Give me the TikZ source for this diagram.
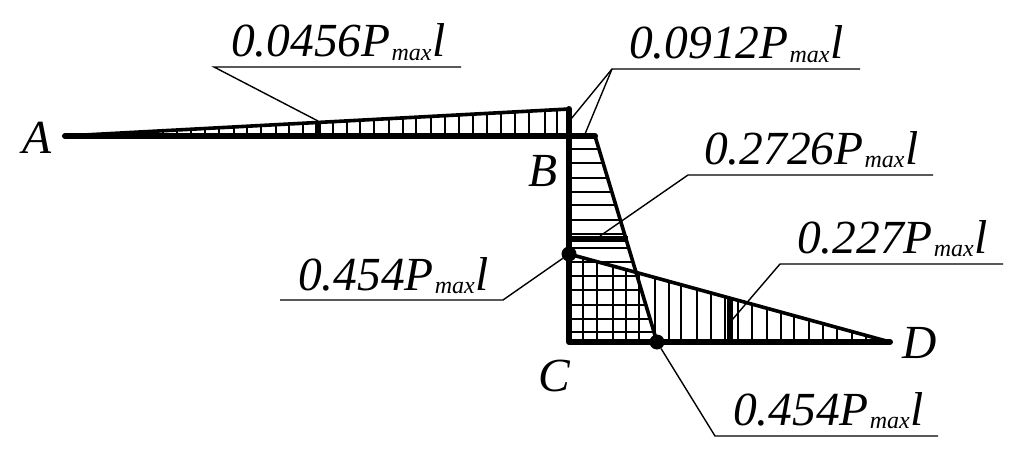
\documentclass[tikz,border=0pt]{standalone}
\usepackage{fontspec}
\setmainfont{Liberation Serif}
\newcommand{\lblfont}{\fontsize{47.5}{47.5}\selectfont\itshape}
\newcommand{\pml}[1]{#1P\kern1pt\raisebox{-3.5pt}{\fontsize{24}{24}\selectfont max}\kern1pt l}
\tikzset{
  beam/.style={line width=6pt,line cap=round,line join=round},
  edgeline/.style={line width=3.6pt,line cap=round},
  ordinate/.style={line width=5.5pt,line cap=butt},
  hatch/.style={line width=1.1pt},
  leader/.style={line width=1.4pt},
  lbl/.style={anchor=base west,inner sep=0pt,outer sep=0pt,font=\lblfont},
  dot/.style={circle,fill=black,inner sep=0pt,minimum size=15pt}
}
\begin{document}
\begin{tikzpicture}[x=1pt,y=-1pt]
\useasboundingbox (0,0) rectangle (1024,468);
\fill[white] (0,0) rectangle (1024,468);
% key points
\coordinate (A) at (65,136);
\coordinate (Btop) at (569,109);
\coordinate (C) at (569,342);
\coordinate (D) at (890,342);
\coordinate (Qt) at (595,136);
\coordinate (Qb) at (657,342);
\coordinate (M) at (569,254);
% hatching: AB, vertical
\foreach \x in {163,177,191,205,219,234,247,261,276,289,303,333,347,360,374,389,403,416,431,445,459,473,487,501,515,529,545,557}
  \draw[hatch] (\x,{136-(27/504)*(\x-65)}) -- (\x,136);
% hatching: BC, horizontal
\foreach \y in {149,163,178,192,205,220,234,248,262,276,290,305,319,332}
  \draw[hatch] (569,\y) -- ({595+(62/206)*(\y-136)},\y);
% hatching: CD, vertical
\foreach \x in {583,597,613,626,639,655,669,681,697,711,725,738,752,767,781,794,809,823,837,852,866}
  \draw[hatch] (\x,{254+(88/321)*(\x-569)}) -- (\x,342);
% contour lines
\draw[edgeline] (A) -- (Btop);
\draw[edgeline] (Qt) -- (Qb);
\draw[edgeline] (M) -- (D);
% ordinates
\coordinate (b1t) at (318,121); \coordinate (b1b) at (318,136);
\coordinate (b2t) at (730,298); \coordinate (b2b) at (730,342);
\coordinate (b3l) at (569,239); \coordinate (b3r) at (628,239);
\draw[ordinate] (b1t) -- (b1b);
\draw[ordinate] (b2t) -- (b2b);
\draw[ordinate] (b3l) -- (b3r);
% frame
\draw[beam] (A) -- (Qt);
\draw[beam] (Btop) -- (C) -- (D);
\node[dot] (dm) at (M) {};
\node[dot] (dq) at (Qb) {};
% leaders
\coordinate (l1a) at (461,67); \coordinate (l1b) at (214,67); \coordinate (l1c) at (318,121);
\coordinate (l2a) at (860,69); \coordinate (l2b) at (612,69);
\coordinate (l2c) at (571,119); \coordinate (l2d) at (585,134);
\coordinate (l3a) at (933,175); \coordinate (l3b) at (688,175); \coordinate (l3c) at (600,236);
\coordinate (l4a) at (280,300); \coordinate (l4b) at (503,300);
\coordinate (l5a) at (1003,264); \coordinate (l5b) at (780,264); \coordinate (l5c) at (732,320);
\coordinate (l6a) at (938,436); \coordinate (l6b) at (715,436);
\draw[leader] (l1a) -- (l1b) -- (l1c);
\draw[leader] (l2a) -- (l2b) -- (l2c);
\draw[leader] (l2b) -- (l2d);
\draw[leader] (l3a) -- (l3b) -- (l3c);
\draw[leader] (l4a) -- (l4b) -- (dm);
\draw[leader] (l5a) -- (l5b) -- (l5c);
\draw[leader] (l6a) -- (l6b) -- (dq);
% labels
\node[lbl] (t1) at (231,57) {\pml{0.0456}};
\node[lbl] (t2) at (629,59) {\pml{0.0912}};
\node[lbl] (t3) at (704,164) {\pml{0.2726}};
\node[lbl] (t4) at (298,290) {\pml{0.454}};
\node[lbl] (t5) at (797,253) {\pml{0.227}};
\node[lbl] (t6) at (733,425) {\pml{0.454}};
\node[lbl] (nA) at (22,153) {A};
\node[lbl] (nB) at (528,186) {B};
\node[lbl] (nC) at (538,391) {C};
\node[lbl] (nD) at (902,358) {D};
\end{tikzpicture}
\end{document}
